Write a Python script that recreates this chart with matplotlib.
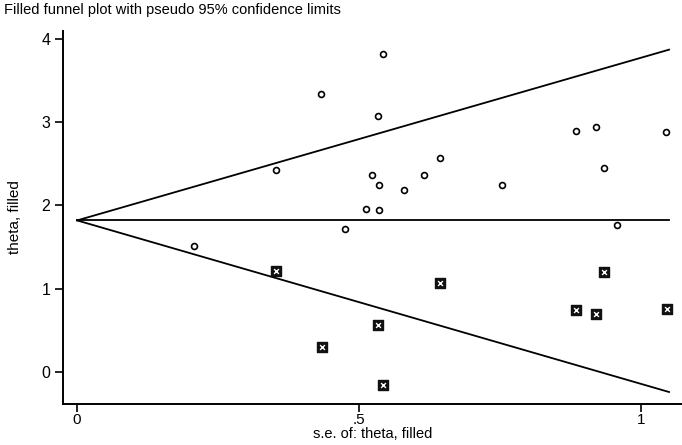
import numpy as np
import matplotlib
matplotlib.use("Agg")
import matplotlib.pyplot as plt

plt.rcParams['font.family'] = ['Liberation Sans', 'DejaVu Sans']

# observed studies (s.e., theta)
se_obs = [0.207, 0.353, 0.433, 0.475, 0.512, 0.523, 0.534, 0.535, 0.535, 0.543,
          0.580, 0.615, 0.644, 0.754, 0.885, 0.920, 0.934, 0.957, 1.044]
th_obs = [1.51, 2.43, 3.34, 1.72, 1.96, 2.36, 3.07, 2.24, 1.94, 3.82,
          2.18, 2.36, 2.57, 2.24, 2.89, 2.94, 2.45, 1.76, 2.88]

# filled (imputed) studies
se_fill = [0.353, 0.434, 0.534, 0.543, 0.644, 0.885, 0.920, 0.934, 1.046]
th_fill = [1.21, 0.30, 0.57, -0.16, 1.07, 0.75, 0.70, 1.20, 0.76]

# pooled estimate and pseudo 95% limits
se_line = [0, 1.05]
pooled = [1.82, 1.82]
upper = [1.82, 3.87]
lower = [1.82, -0.24]

fig = plt.figure(figsize=(6.82, 4.45), dpi=100)
ax = fig.add_axes([63/682, 41/445, 619/682, 373.5/445])

ax.plot(se_line, pooled, color='black', lw=1.3)
ax.plot(se_line, upper, color='black', lw=1.3)
ax.plot(se_line, lower, color='black', lw=1.3)

ax.scatter(se_fill, th_fill, marker='s', s=50, facecolor='#111111', edgecolor='#111111', zorder=3)
ax.scatter(se_fill, th_fill, marker='x', s=12, color='white', lw=1.0, zorder=4)
ax.scatter(se_obs, th_obs, marker='o', s=18, facecolor='white', edgecolor='black', lw=1.2, zorder=3)

ax.set_xlim(-0.025, 1.073)
ax.set_ylim(-0.384, 4.1)
ax.set_xticks([0, 0.5, 1])
ax.set_xticklabels(['0', '.5', '1'])
ax.set_yticks([0, 1, 2, 3, 4])
ax.tick_params(direction='out', length=6, width=1.2, labelsize=11.5, pad=3)
ax.tick_params(axis='x', pad=0.5, labelsize=11)

for s in ['top', 'right']:
    ax.spines[s].set_visible(False)
for s in ['left', 'bottom']:
    ax.spines[s].set_linewidth(1.4)

ax.set_xlabel('s.e. of: theta, filled', fontsize=10.5, labelpad=0)
ax.set_ylabel('theta, filled', fontsize=11, labelpad=14)

fig.text(4/682, 1 - 10/445, 'Filled funnel plot with pseudo 95% confidence limits',
         fontsize=10.5, ha='left', va='center')

fig.savefig('out.png', dpi=100)
